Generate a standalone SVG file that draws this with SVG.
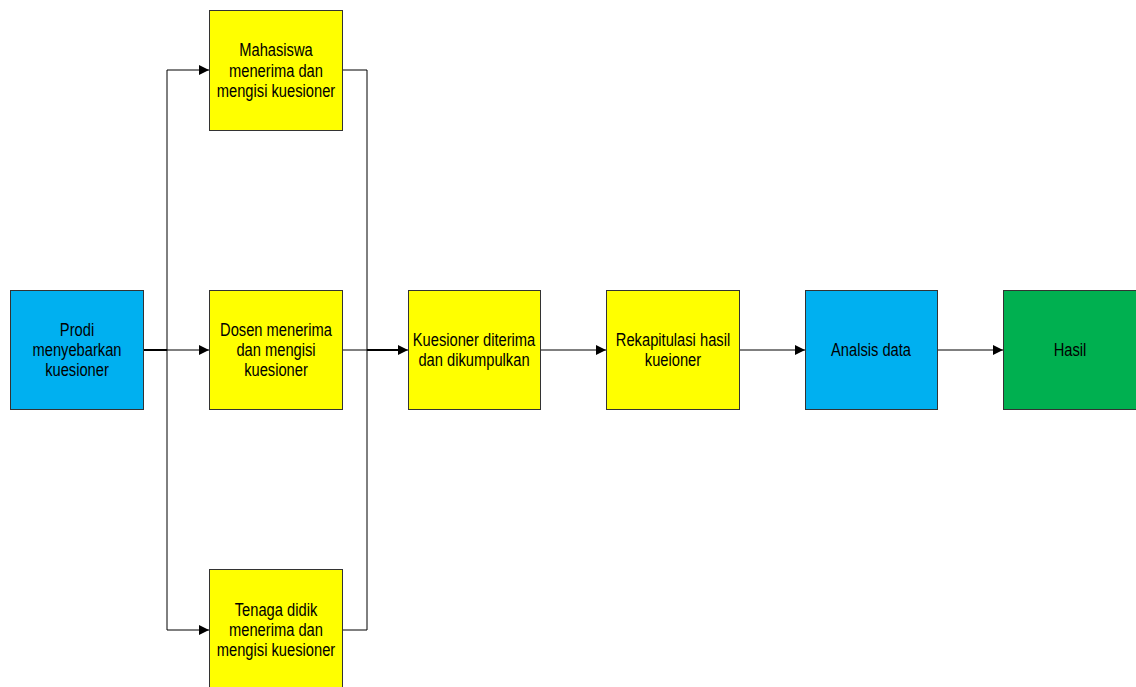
<svg xmlns="http://www.w3.org/2000/svg" width="1136" height="687" viewBox="0 0 1136 687">
<defs>
<marker id="ah" markerWidth="10" markerHeight="10" refX="10" refY="5" orient="auto" markerUnits="userSpaceOnUse"><path d="M0,0 L10,5 L0,10 Z" fill="#000"/></marker>
<style>
.b{stroke:#333;stroke-width:1}
.blue{fill:#00B0F0}.yel{fill:#FFFF00}.grn{fill:#00B050}
text{font-family:"Liberation Sans",Arial,sans-serif;font-size:17.5px;fill:#000;text-anchor:middle}
.c{fill:none;stroke:#000;stroke-width:1}
.t{fill:none;stroke:#000;stroke-width:2}
</style>
</defs>
<rect width="1136" height="687" fill="#fff"/>
<g id="connectors">
<path class="c" d="M167,350 V70 H209" marker-end="url(#ah)"/>
<path class="c" d="M167,350 V630 H209" marker-end="url(#ah)"/>
<path class="t" d="M143,350 H167"/>
<path class="c" d="M167,350 H209" marker-end="url(#ah)"/>
<path class="c" d="M342,70 H367 V630 H342"/>
<path class="c" d="M342,350 H367"/>
<path class="t" d="M367,350 H398"/>
<path class="c" d="M398,350 H408" marker-end="url(#ah)"/>
<path class="c" d="M540,350 H606" marker-end="url(#ah)"/>
<path class="c" d="M739,350 H805" marker-end="url(#ah)"/>
<path class="c" d="M937,350 H1003" marker-end="url(#ah)"/>
</g>
<g id="prodi"><rect class="b blue" x="10.5" y="290.5" width="133" height="119"/>
<text transform="translate(77,336) scale(0.84,1)">Prodi</text>
<text transform="translate(77,356) scale(0.84,1)">menyebarkan</text>
<text transform="translate(77,376) scale(0.84,1)">kuesioner</text></g>
<g id="mahasiswa"><rect class="b yel" x="209.5" y="10.5" width="133" height="120"/>
<text transform="translate(276,56) scale(0.84,1)">Mahasiswa</text>
<text transform="translate(276,77) scale(0.84,1)">menerima dan</text>
<text transform="translate(276,97) scale(0.84,1)">mengisi kuesioner</text></g>
<g id="dosen"><rect class="b yel" x="209.5" y="290.5" width="133" height="119"/>
<text transform="translate(276,336) scale(0.84,1)">Dosen menerima</text>
<text transform="translate(276,356) scale(0.84,1)">dan mengisi</text>
<text transform="translate(276,376) scale(0.84,1)">kuesioner</text></g>
<g id="tenaga"><rect class="b yel" x="209.5" y="569.5" width="133" height="120"/>
<text transform="translate(276,616) scale(0.84,1)">Tenaga didik</text>
<text transform="translate(276,636) scale(0.84,1)">menerima dan</text>
<text transform="translate(276,656) scale(0.84,1)">mengisi kuesioner</text></g>
<g id="kuesioner"><rect class="b yel" x="408.5" y="290.5" width="132" height="119"/>
<text transform="translate(474,346) scale(0.84,1)">Kuesioner diterima</text>
<text transform="translate(474,366) scale(0.84,1)">dan dikumpulkan</text></g>
<g id="rekap"><rect class="b yel" x="606.5" y="290.5" width="133" height="119"/>
<text transform="translate(673,346) scale(0.84,1)">Rekapitulasi hasil</text>
<text transform="translate(673,366) scale(0.84,1)">kueioner</text></g>
<g id="analisis"><rect class="b blue" x="805.5" y="290.5" width="132" height="119"/>
<text transform="translate(871,356) scale(0.84,1)">Analsis data</text></g>
<g id="hasil"><rect class="b grn" x="1003.5" y="290.5" width="133" height="119"/>
<text transform="translate(1070,356) scale(0.84,1)">Hasil</text></g>
</svg>
